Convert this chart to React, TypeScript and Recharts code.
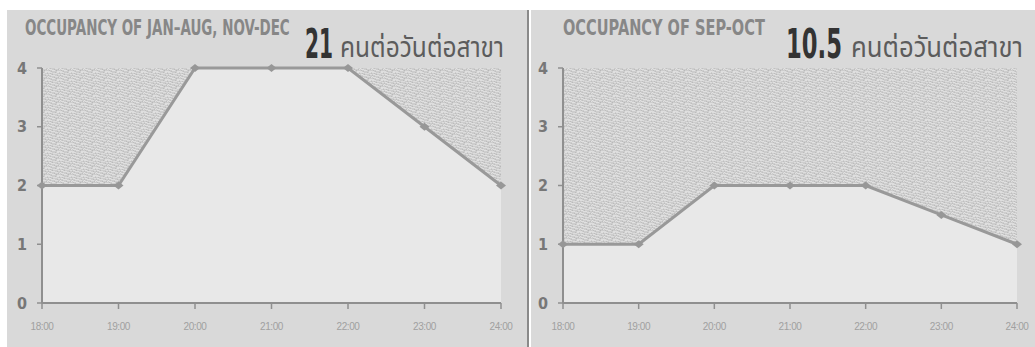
import React, { useLayoutEffect, useRef, useState } from 'react';
import { ComposedChart, Area, Line, XAxis, YAxis, CartesianGrid } from 'recharts';

// hourly occupancy, people per branch
const hours = ['18:00', '19:00', '20:00', '21:00', '22:00', '23:00', '24:00'];
const regularMonths = [2, 2, 4, 4, 4, 3, 2];
const sepOct = [1, 1, 2, 2, 2, 1.5, 1];
const yTicks = [0, 1, 2, 3, 4];

const HEAVY = "'DejaVu Sans', 'Liberation Sans', sans-serif";
const NARROW = "'DejaVu Sans Condensed', 'Liberation Sans Narrow', sans-serif";
const THAI = "'Noto Sans Thai', 'Noto Sans', 'DejaVu Sans', sans-serif";

// grain of the textured plot background: [x, y, w, shade]
const grain: [number, number, number, string][] = [
  [0, 0, 4, '#dedede'], [7, 0, 1, '#bcbcbc'], [9, 0, 2, '#e0e0e0'],
  [2, 1, 1, '#bdbdbd'], [5, 1, 4, '#dcdcdc'], [11, 1, 1, '#bfbfbf'],
  [1, 2, 2, '#e1e1e1'], [4, 2, 1, '#bababa'], [10, 2, 2, '#dddddd'],
  [0, 3, 1, '#bebebe'], [3, 3, 4, '#dfdfdf'], [9, 3, 1, '#bcbcbc'],
  [0, 4, 1, '#e2e2e2'], [2, 4, 1, '#c0c0c0'], [7, 4, 3, '#dddddd'],
  [1, 5, 3, '#dfdfdf'], [6, 5, 1, '#bbbbbb'], [10, 5, 1, '#bebebe'], [11, 5, 1, '#e0e0e0'],
  [1, 6, 1, '#bdbdbd'], [4, 6, 3, '#e1e1e1'], [8, 6, 1, '#b9b9b9'],
  [0, 7, 2, '#dddddd'], [3, 7, 1, '#bfbfbf'], [9, 7, 3, '#dfdfdf'],
];

const toRows = (values: number[]) => hours.map((time, i) => ({ time, value: values[i] }));

const Diamond = (props: any) => {
  const { cx, cy, index } = props;
  if (cx == null || cy == null) return null;
  return (
    <polygon
      key={`d-${index}`}
      points={`${cx - 5},${cy} ${cx},${cy - 4} ${cx + 5},${cy} ${cx},${cy + 4}`}
      fill="#979797"
    />
  );
};

// squeezes a text horizontally so it spans exactly `width` px
function FitText({ x, y, width, children, ...rest }: any) {
  const ref = useRef<SVGTextElement>(null);
  const [sx, setSx] = useState(1);
  useLayoutEffect(() => {
    if (ref.current) {
      const w = ref.current.getComputedTextLength();
      if (w > 0) setSx(width / w);
    }
  }, [width, children]);
  return (
    <text ref={ref} transform={`translate(${x},${y}) scale(${sx},1)`} {...rest}>
      {children}
    </text>
  );
}

interface PanelProps {
  values: number[];
  width: number;
  left: number;
  right: number;
}

function OccupancyPanel({ values, width, left, right }: PanelProps) {
  return (
    <ComposedChart
      width={width}
      height={347}
      data={toRows(values)}
      margin={{ top: 68, right, left, bottom: 14 }}
    >
      <CartesianGrid horizontal={false} vertical={false} fill="url(#tex)" stroke="none" />
      <XAxis
        dataKey="time"
        interval={0}
        height={30}
        tickSize={6}
        tickMargin={14}
        axisLine={{ stroke: '#8f8f8f', strokeWidth: 2 }}
        tickLine={{ stroke: '#8f8f8f', strokeWidth: 1.5 }}
        tick={{ fill: '#a0a0a0', fontSize: 10, fontFamily: "'Liberation Sans', Arial, sans-serif", letterSpacing: -0.4 }}
      />
      <YAxis
        domain={[0, 4]}
        ticks={yTicks}
        width={30}
        tickSize={5}
        tickMargin={10}
        axisLine={{ stroke: '#8f8f8f', strokeWidth: 2 }}
        tickLine={{ stroke: '#8f8f8f', strokeWidth: 1.5 }}
        tick={{ fill: '#777', fontSize: 16, fontWeight: 700, fontFamily: NARROW }}
      />
      <Area
        type="linear"
        dataKey="value"
        baseValue={0}
        fill="#e8e8e8"
        fillOpacity={1}
        stroke="none"
        isAnimationActive={false}
      />
      <Line
        type="linear"
        dataKey="value"
        stroke="#999999"
        strokeWidth={3}
        dot={Diamond}
        activeDot={false}
        isAnimationActive={false}
      />
    </ComposedChart>
  );
}

export default function App() {
  return (
    <div style={{ position: 'absolute', left: 0, top: 0, width: 1035, height: 347, background: '#fff', overflow: 'hidden' }}>
      <div style={{ position: 'absolute', left: 7, top: 10, width: 520, height: 337, background: '#d9d9d9' }} />
      <div style={{ position: 'absolute', left: 527, top: 10, width: 2, height: 337, background: '#8a8a8a' }} />
      <div style={{ position: 'absolute', left: 531, top: 10, width: 504, height: 337, background: '#d9d9d9' }} />

      <div style={{ position: 'absolute', left: 0, top: 0 }}>
        <OccupancyPanel values={regularMonths} width={520} left={12} right={19} />
      </div>
      <div style={{ position: 'absolute', left: 520, top: 0 }}>
        <OccupancyPanel values={sepOct} width={515} left={13} right={18} />
      </div>

      <svg width={1035} height={347} style={{ position: 'absolute', left: 0, top: 0, pointerEvents: 'none' }}>
        <defs>
          <pattern id="tex" width={12} height={8} patternUnits="userSpaceOnUse">
            <rect width={12} height={8} fill="#cdcdcd" />
            {grain.map(([gx, gy, gw, shade], i) => (
              <rect key={i} x={gx} y={gy} width={gw} height={1} fill={shade} />
            ))}
          </pattern>
        </defs>
        <FitText x={25} y={35} width={265} fontFamily={HEAVY} fontWeight={700} fontSize={22} fill="#878787">
          OCCUPANCY OF JAN–AUG, NOV-DEC
        </FitText>
        <FitText x={305} y={58} width={28} fontFamily={HEAVY} fontWeight={700} fontSize={41} fill="#333">
          21
        </FitText>
        <FitText x={340} y={57} width={164} fontFamily={THAI} fontSize={29} fill="#5c5c5c">
          คนต่อวันต่อสาขา
        </FitText>
        <FitText x={563} y={35} width={202} fontFamily={HEAVY} fontWeight={700} fontSize={22} fill="#878787">
          OCCUPANCY OF SEP-OCT
        </FitText>
        <FitText x={786} y={58} width={56} fontFamily={HEAVY} fontWeight={700} fontSize={41} fill="#333">
          10.5
        </FitText>
        <FitText x={851} y={57} width={172} fontFamily={THAI} fontSize={29} fill="#5c5c5c">
          คนต่อวันต่อสาขา
        </FitText>
      </svg>
    </div>
  );
}
